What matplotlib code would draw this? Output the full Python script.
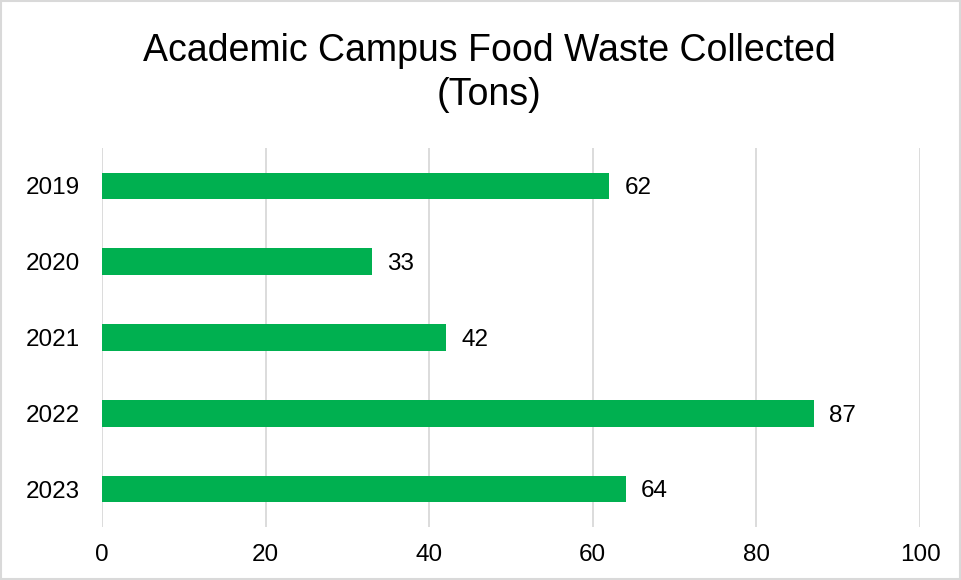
import matplotlib
matplotlib.use("Agg")
import matplotlib.pyplot as plt
from matplotlib.patches import Rectangle

years = ["2019", "2020", "2021", "2022", "2023"]
tons = [62, 33, 42, 87, 64]
xticks = [0, 20, 40, 60, 80, 100]

plt.rcParams['font.family'] = ['Liberation Sans', 'DejaVu Sans']

fig = plt.figure(figsize=(9.62, 5.80), dpi=100)
ax = fig.add_axes([102/962, 1 - 527/580, (920 - 102)/962, (527 - 148)/580])

pos = list(range(len(years)))
ax.barh(pos, tons, height=0.35, color="#00B050", zorder=3)
for p, v in zip(pos, tons):
    ax.text(v + 1.9, p + 0.03, str(v), va="center", ha="left", fontsize=17.5, color="black")

ax.set_xlim(0, 100)
ax.set_ylim(4.5, -0.5)
ax.set_yticks(pos)
ax.set_yticklabels(years, fontsize=17.5)
ax.set_xticks(xticks)
ax.set_xticklabels([str(t) for t in xticks], fontsize=17.5)
ax.tick_params(axis="both", length=0, pad=12)
ax.tick_params(axis="y", pad=16)
ax.grid(axis="x", color="#D9D9D9", linewidth=1.3, zorder=0)
for s in ax.spines.values():
    s.set_visible(False)

fig.text(489/962, 1 - 73/580, "Academic Campus Food Waste Collected\n(Tons)",
         ha="center", va="center", fontsize=27, linespacing=1.3)

fig.patches.append(Rectangle((0.001, 0.002), 0.997, 0.996, transform=fig.transFigure,
                             fill=False, edgecolor="#D9D9D9", linewidth=1.5))

fig.savefig("out.png", dpi=100)
